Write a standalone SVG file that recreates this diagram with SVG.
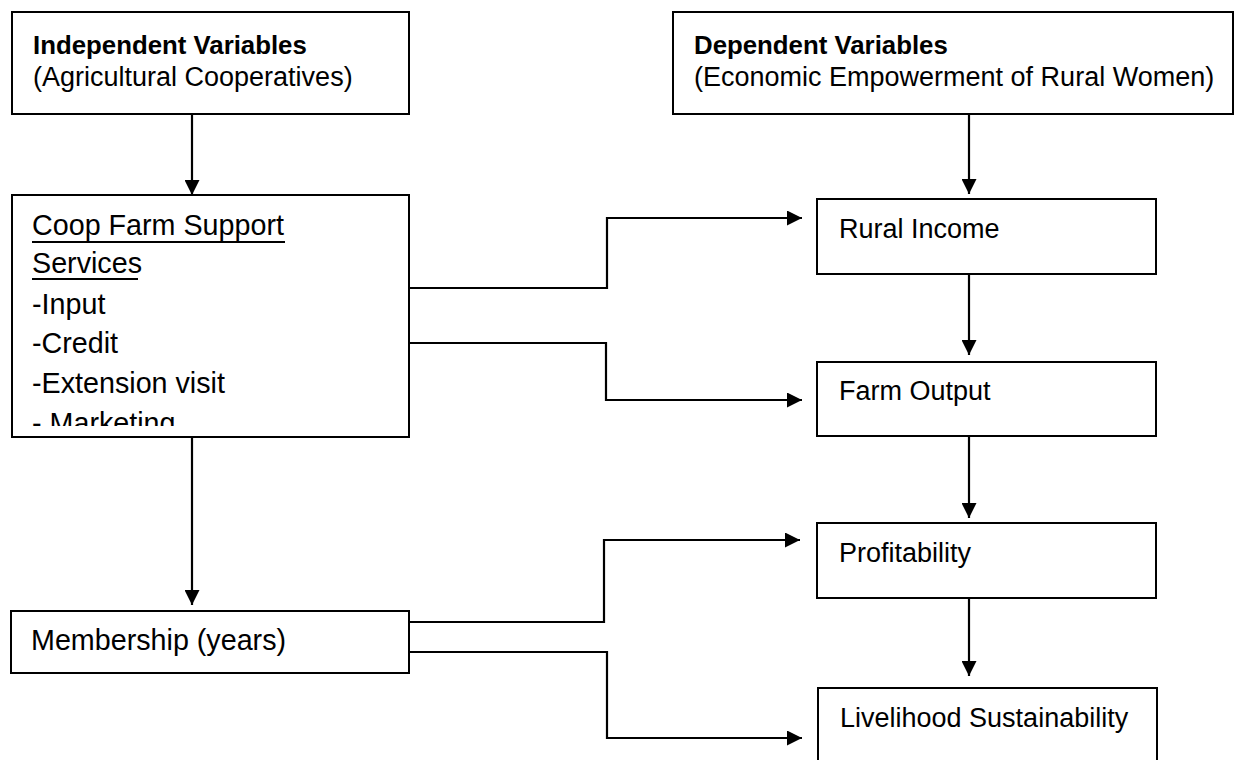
<svg xmlns="http://www.w3.org/2000/svg" width="1247" height="760" viewBox="0 0 1247 760">
<style>
  .box { fill: #ffffff; stroke: #000000; stroke-width: 2; }
  .t { font-family: "Liberation Sans", Arial, sans-serif; font-size: 27px; fill: #000000; }
  .b { font-weight: bold; font-size: 25.8px; }
  .big { font-size: 28.7px; }
  .conn { fill: none; stroke: #000000; stroke-width: 2.2; }
  .ul { stroke: #000000; stroke-width: 2; }
</style>
<defs>
  <marker id="arrow" markerUnits="userSpaceOnUse" markerWidth="16" markerHeight="15" refX="15" refY="7.5" orient="auto">
    <path d="M0,0 L15,7.5 L0,15 z" fill="#000000"/>
  </marker>
  <clipPath id="coopClip">
    <rect x="13" y="196" width="395" height="230"/>
  </clipPath>
</defs>
<rect x="0" y="0" width="1247" height="760" fill="#ffffff"/>

<g id="independent">
  <rect class="box" x="12" y="12" width="397" height="102"/>
  <text class="t b" x="33" y="54">Independent Variables</text>
  <text class="t" x="33" y="86">(Agricultural Cooperatives)</text>
</g>

<g id="dependent">
  <rect class="box" x="673" y="12" width="560" height="102"/>
  <text class="t b" x="694" y="54">Dependent Variables</text>
  <text class="t" x="694" y="86">(Economic Empowerment of Rural Women)</text>
</g>

<g id="coop">
  <rect class="box" x="12" y="195" width="397" height="242"/>
  <g clip-path="url(#coopClip)">
    <text class="t big" x="32" y="235">Coop Farm Support</text>
    <text class="t big" x="32" y="273">Services</text>
    <text class="t big" x="32" y="314">-Input</text>
    <text class="t big" x="32" y="353">-Credit</text>
    <text class="t big" x="32" y="393">-Extension visit</text>
    <text class="t big" x="32" y="433">- Marketing</text>
  </g>
  <line class="ul" x1="32" y1="242" x2="285" y2="242"/>
  <line class="ul" x1="32" y1="279" x2="138" y2="279"/>
</g>

<g id="membership">
  <rect class="box" x="11" y="611" width="398" height="62"/>
  <text class="t big" x="31" y="650">Membership (years)</text>
</g>

<g id="rural-income">
  <rect class="box" x="817" y="199" width="339" height="75"/>
  <text class="t" x="839" y="238">Rural Income</text>
</g>

<g id="farm-output">
  <rect class="box" x="817" y="362" width="339" height="74"/>
  <text class="t" x="839" y="400">Farm Output</text>
</g>

<g id="profitability">
  <rect class="box" x="817" y="523" width="339" height="75"/>
  <text class="t" x="839" y="562">Profitability</text>
</g>

<g id="livelihood">
  <rect class="box" x="818" y="688" width="339" height="90"/>
  <text class="t" x="840" y="727">Livelihood Sustainability</text>
</g>

<g id="connectors">
  <polyline class="conn" points="192,114 192,195" marker-end="url(#arrow)"/>
  <polyline class="conn" points="969,114 969,194" marker-end="url(#arrow)"/>
  <polyline class="conn" points="410,288 607,288 607,218 802,218" marker-end="url(#arrow)"/>
  <polyline class="conn" points="410,343 606,343 606,400 802,400" marker-end="url(#arrow)"/>
  <polyline class="conn" points="969,274 969,355" marker-end="url(#arrow)"/>
  <polyline class="conn" points="969,436 969,518" marker-end="url(#arrow)"/>
  <polyline class="conn" points="969,598 969,676" marker-end="url(#arrow)"/>
  <polyline class="conn" points="192,437 192,605" marker-end="url(#arrow)"/>
  <polyline class="conn" points="410,622 604,622 604,540 800,540" marker-end="url(#arrow)"/>
  <polyline class="conn" points="410,652 607,652 607,738 802,738" marker-end="url(#arrow)"/>
</g>
</svg>
